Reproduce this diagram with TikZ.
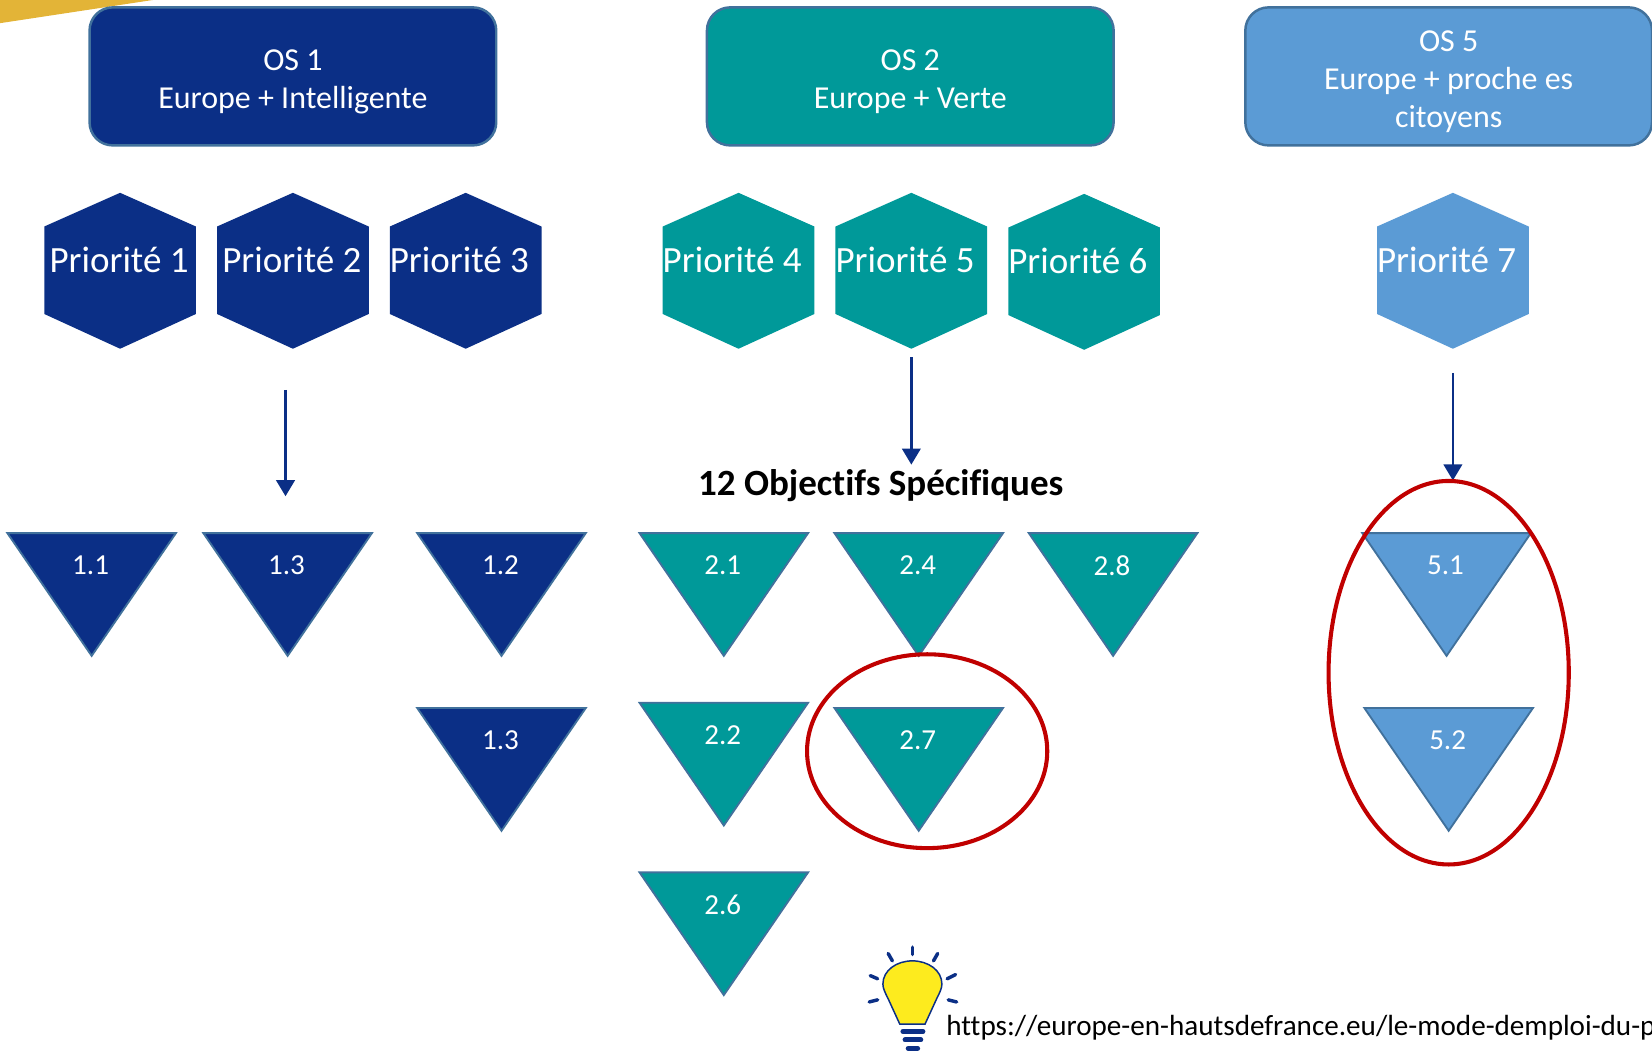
\documentclass[tikz,border=0pt]{standalone}
\usepackage{fontspec}
\setmainfont[Ligatures=NoCommon]{Carlito}
\usetikzlibrary{arrows.meta}
\definecolor{navyos}{HTML}{0B2F86}
\definecolor{tealos}{HTML}{009999}
\definecolor{blueos}{HTML}{5B9BD5}
\definecolor{edgeos}{HTML}{41719C}
\definecolor{redring}{HTML}{C00000}
\definecolor{goldwedge}{HTML}{E3B437}
\definecolor{bulbyellow}{HTML}{FDEB1E}
\tikzset{
	osbox/.style={draw=edgeos, line width=2pt, rounded corners=0.66cm, minimum width=11.58cm, minimum height=3.93cm, align=center, text=white, font=\fontsize{25.9}{30.7}\selectfont},
	hexlabel/.style={text=white, inner sep=0pt, font=\fontsize{30}{36}\selectfont},
	trilabel/.style={text=white, inner sep=0pt, font=\fontsize{23.5}{28}\selectfont},
	downarrow/.style={draw=navyos, line width=2pt, -{Triangle[width=15pt,length=13pt]}},
	ring/.style={draw=redring, line width=3.3pt},
	bulbray/.style={draw=navyos, line width=2.8pt, line cap=round},
	bulbbar/.style={draw=navyos, line width=4pt, line cap=round}
}
\def\osfirst{\rule{0pt}{26pt}}
\def\hexa[#1](#2)(#3,#4)(#5)#6{\fill[#1] (#3,{#4-74}) -- ({#3+72},{#4-42}) -- ({#3+72},{#4+41}) -- (#3,{#4+74}) -- ({#3-72},{#4+41}) -- ({#3-72},{#4-42}) -- cycle; \node[hexlabel] (#2) at (#5,{#4-10}) {#6};}
\def\tria[#1](#2)(#3,#4)#5{\draw[fill=#1, draw=edgeos, line width=1.5pt] ({#3-80},#4) -- ({#3+80},#4) -- (#3,{#4+116.5}) -- cycle; \node[trilabel] (#2) at ({#3-1},{#4+30.5}) {#5};}

\begin{document}
\begin{tikzpicture}[x=0.03cm, y=-0.03cm]
	\useasboundingbox (0, 0) rectangle (1568, 998);
	
	%%%%% CORNER %%%%%
	\fill[goldwedge] (0, 0) -- (145, 0) -- (0, 22) -- cycle;
	
	%%%%% OS %%%%%
	\node[osbox, fill=navyos] (os1) at (278, 72.5) {\osfirst OS 1\\Europe + Intelligente};
	\node[osbox, fill=tealos] (os2) at (864, 72.5) {\osfirst OS 2\\Europe + Verte};
	\node[osbox, fill=blueos] (os5) at (1375, 72.5) {\osfirst OS 5\\Europe + proche es\\citoyens};
	
	%%%%% PRIORITES %%%%%
	\hexa[navyos](prio1)(114,257)(113){Priorité 1}
	\hexa[navyos](prio2)(278,257)(277){Priorité 2}
	\hexa[navyos](prio3)(442,257)(436){Priorité 3}
	\hexa[tealos](prio4)(701,257)(695){Priorité 4}
	\hexa[tealos](prio5)(865,257)(859){Priorité 5}
	\hexa[tealos](prio6)(1029,258)(1023){Priorité 6}
	\hexa[blueos](prio7)(1379,257)(1373){Priorité 7}
	
	%%%%% ARROWS %%%%%
	\coordinate (startA) at (271, 370);
	\coordinate (endA) at (271, 471);
	\coordinate (startB) at (865, 339);
	\coordinate (endB) at (865, 441);
	\coordinate (startC) at (1379, 354);
	\coordinate (endC) at (1379, 456);
	\draw[downarrow] (startA) -- (endA);
	\draw[downarrow] (startB) -- (endB);
	\draw[downarrow] (startC) -- (endC);
	
	\node[font=\fontsize{30}{36}\selectfont\bfseries, inner sep=0pt] (title) at (836, 461) {12 Objectifs Spécifiques};
	
	%%%%% OBJECTIFS %%%%%
	\tria[navyos](obj11)(87,506){1.1}
	\tria[navyos](obj13a)(273,506){1.3}
	\tria[navyos](obj12)(476,506){1.2}
	\tria[navyos](obj13b)(476,672){1.3}
	
	\tria[tealos](obj21)(687,506){2.1}
	\tria[tealos](obj24)(872,506){2.4}
	\tria[tealos](obj28)(1056.5,506){2.8}
	\tria[tealos](obj22)(687,667){2.2}
	\tria[tealos](obj27)(872,672){2.7}
	\tria[tealos](obj26)(687,828){2.6}
	
	\tria[blueos](obj51)(1373,506){5.1}
	\tria[blueos](obj52)(1375,672){5.2}
	
	\draw[ring] (880, 713) ellipse (114 and 92);
	\draw[ring] (1375, 638.5) ellipse (114 and 182);
	
	%%%%% BULB %%%%%
	\draw[fill=bulbyellow, draw=navyos, line width=1.2pt] (854, 972) -- (843, 948) .. controls (840, 942) and (838, 938) .. (838, 934) .. controls (838, 921) and (851, 912) .. (866, 912) .. controls (881, 912) and (894, 921) .. (894, 934) .. controls (894, 938) and (892, 942) .. (889, 948) -- (878, 972) -- cycle;
	\draw[bulbray] (866, 899) -- (866, 906);
	\draw[bulbray] (843, 905) -- (847, 912);
	\draw[bulbray] (890, 905) -- (886, 912);
	\draw[bulbray] (826, 926) -- (833, 929);
	\draw[bulbray] (907, 925) -- (899, 929);
	\draw[bulbray] (825, 951) -- (833, 949);
	\draw[bulbray] (908, 951) -- (900, 949);
	\draw[bulbbar] (857, 979) -- (876, 979);
	\draw[bulbbar] (859, 987) -- (874, 987);
	\draw[bulbbar] (862, 995) -- (871, 995);
	
	\node[anchor=base west, inner sep=0pt, font=\fontsize{23.6}{28}\selectfont] (link) at (898, 983) {https://europe-en-hautsdefrance.eu/le-mode-demploi-du-p};
\end{tikzpicture}
\end{document}
